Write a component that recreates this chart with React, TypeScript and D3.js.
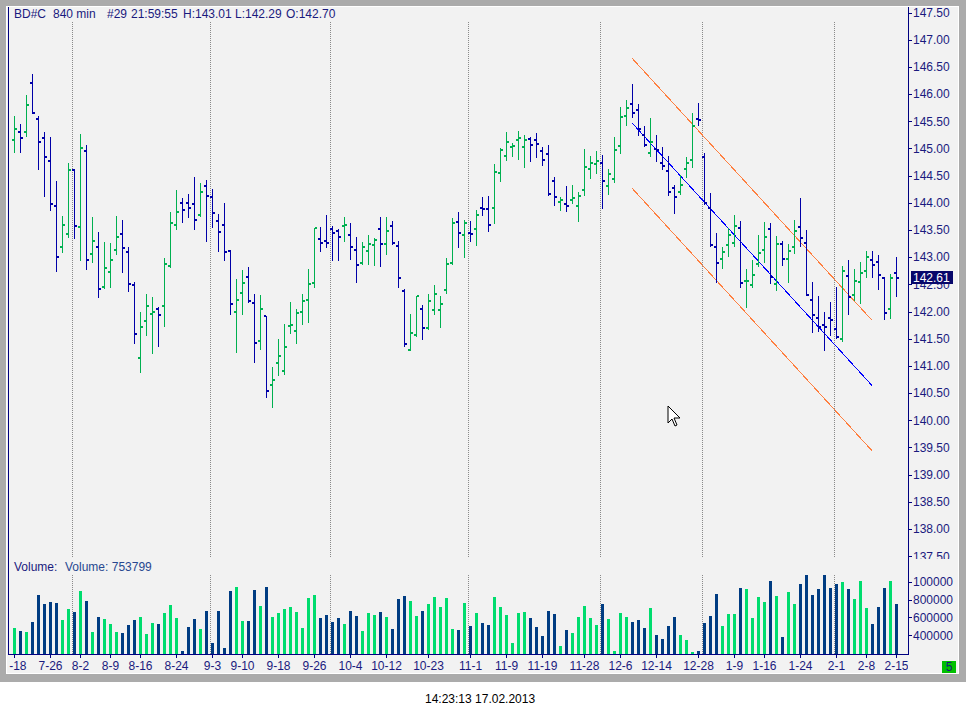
import React from 'react';
import * as d3 from 'd3';

const opens = [145.15,145.31,145.30,146.20,145.55,145.20,144.76,143.95,143.18,143.42,
144.60,143.55,144.95,143.05,143.18,142.45,142.72,143.13,143.42,143.09,
142.48,141.14,141.82,141.95,142.04,142.11,142.83,143.60,143.99,143.99,
143.97,143.77,144.30,144.10,143.66,143.60,143.11,141.99,142.34,142.63,
142.15,141.45,141.91,140.64,141.05,140.90,141.73,141.64,142.00,142.22,
142.52,143.33,143.29,143.51,143.48,143.57,143.40,143.14,142.89,143.11,
143.22,143.51,143.24,143.57,143.20,142.37,141.30,141.56,142.04,141.69,
142.02,142.02,142.39,142.89,143.64,143.40,143.44,143.51,143.90,143.88,
143.90,144.54,144.87,145.02,145.15,145.02,145.17,145.15,144.95,144.89,
144.40,144.01,143.97,144.06,143.95,144.23,144.63,144.71,144.73,144.30,
144.44,145.04,145.59,145.82,145.70,145.24,144.91,144.99,144.73,144.58,
144.27,144.19,144.62,144.78,145.55,144.85,143.91,143.18,142.96,143.22,
143.27,143.53,142.56,142.48,142.87,143.14,143.51,142.50,143.25,142.96,
143.18,143.55,143.27,142.21,141.88,141.75,141.88,141.67,141.49,142.65,
142.30,142.54,142.74,142.94,142.92,142.61,142.04,142.70];

const highs = [145.60,145.45,145.98,146.37,145.60,145.30,145.21,144.40,143.76,144.73,
144.62,145.27,145.06,143.74,143.46,143.28,143.26,143.76,143.68,143.19,
142.54,141.99,142.32,142.27,142.08,142.99,143.83,144.24,144.09,144.16,
144.47,144.36,144.42,144.25,143.79,144.00,143.13,142.60,142.76,142.82,
142.32,142.30,141.92,140.98,141.50,141.77,142.18,142.05,142.32,142.78,
143.54,143.56,143.78,143.57,143.52,143.74,143.63,143.37,143.28,143.41,
143.35,143.74,143.74,143.67,143.30,142.41,141.95,142.29,142.12,142.33,
142.49,142.29,142.98,143.72,143.83,143.68,143.67,143.87,144.11,144.13,
144.71,145.01,145.30,145.10,145.32,145.25,145.21,145.28,145.03,145.06,
144.47,144.11,144.31,144.33,144.20,144.99,144.86,144.95,144.88,144.62,
145.21,145.76,145.89,146.19,145.81,145.42,145.56,145.24,145.03,144.86,
144.32,144.51,144.85,145.65,145.84,144.92,144.18,143.44,143.19,143.54,
143.77,143.66,142.78,142.95,143.41,143.65,143.63,143.39,143.30,143.24,
143.68,144.09,143.50,142.54,142.29,141.99,142.18,142.45,142.84,142.95,
142.78,142.92,143.11,143.11,143.04,142.63,142.69,143.01];

const lows = [144.94,144.94,145.23,145.65,144.63,144.13,143.87,142.75,143.10,143.38,
143.35,142.94,142.79,142.92,142.27,142.43,142.46,143.05,142.72,142.38,
141.43,140.88,141.56,141.24,141.37,141.74,142.82,143.52,143.65,143.73,
143.51,143.75,143.29,143.56,143.12,142.94,141.96,141.26,141.96,142.17,
141.08,141.32,140.43,140.25,140.84,140.86,141.61,141.43,141.78,141.80,
142.46,143.12,143.19,142.95,142.94,143.29,142.97,142.55,142.88,142.87,
142.86,142.83,143.05,143.24,142.46,141.37,141.29,141.55,141.50,141.67,
141.96,141.72,142.35,142.87,143.19,143.01,143.30,143.23,143.78,143.49,
143.62,144.41,144.78,144.87,144.81,144.66,144.76,144.85,144.70,144.15,
143.96,143.87,143.85,143.99,143.67,144.15,144.46,144.55,143.91,144.17,
144.39,144.92,145.44,145.57,145.25,145.04,144.87,144.76,144.63,144.14,
143.82,144.17,144.47,144.65,145.43,143.98,143.21,142.54,142.81,143.03,
143.20,142.45,142.08,142.46,142.84,142.92,142.53,142.40,142.86,142.55,
143.08,143.20,142.30,141.63,141.64,141.30,141.56,141.52,141.46,141.95,
142.22,142.16,142.63,142.63,142.42,141.86,141.89,142.29];

const closes = [145.35,145.20,145.79,145.66,145.11,144.84,143.97,143.00,143.60,144.60,
143.57,145.00,142.94,143.29,142.41,142.81,142.94,143.38,143.16,142.50,
141.58,141.71,142.10,141.99,141.93,142.87,143.62,143.84,143.86,143.90,
143.68,144.19,144.12,143.82,143.46,143.09,142.13,142.22,142.52,142.19,
141.42,142.04,140.53,140.75,141.18,141.34,141.76,141.97,142.19,142.50,
143.53,143.27,143.27,143.44,143.37,143.60,143.18,142.85,143.18,143.25,
143.31,143.24,143.49,143.27,142.61,141.40,141.60,142.28,141.69,142.19,
142.32,142.13,142.87,143.62,143.44,143.62,143.43,143.77,143.88,143.60,
144.56,144.98,145.11,145.04,145.20,145.15,145.06,145.08,144.78,144.17,
144.10,144.05,143.95,144.08,144.12,144.65,144.73,144.76,144.40,144.53,
144.98,145.57,145.74,145.66,145.35,145.06,145.11,144.98,144.67,144.19,
144.10,144.32,144.73,145.42,145.53,144.00,143.22,142.89,143.09,143.40,
143.57,142.53,142.57,142.67,143.08,143.38,142.63,143.25,142.96,143.11,
143.49,143.35,142.31,141.93,141.71,141.71,141.84,141.54,142.75,142.26,
142.56,142.70,143.00,142.85,142.67,141.97,142.61,142.61];

const volumes = [485000,452000,441000,552000,854000,753000,772000,765000,575000,698000,
664000,899000,787000,441000,608000,586000,530000,441000,430000,519000,
575000,608000,418000,541000,530000,653000,742000,597000,228000,497000,
586000,474000,675000,318000,675000,262000,899000,943000,564000,564000,
910000,731000,943000,608000,653000,698000,720000,664000,485000,821000,
854000,597000,631000,552000,597000,530000,675000,619000,452000,653000,
631000,664000,608000,474000,809000,843000,787000,619000,675000,754000,
832000,720000,821000,474000,463000,765000,508000,653000,541000,515000,
832000,720000,627000,318000,653000,664000,597000,497000,396000,672000,
642000,284000,459000,430000,605000,727000,597000,519000,754000,586000,
228000,653000,608000,552000,575000,485000,705000,407000,362000,504000,
605000,407000,351000,213000,228000,541000,619000,865000,508000,642000,
642000,932000,917000,597000,832000,776000,1010000,843000,385000,884000,
754000,977000,1074000,854000,917000,1074000,932000,977000,996000,917000,
809000,1007000,709000,530000,720000,932000,1007000,753799];

const xTickBars = [0,6,11,16,21,27,33,38,44,50,56,62,69,76,82,88,95,101,107,114,120,125,131,137,142,147];
const xTickLabels = ["7-18","7-26","8-2","8-9","8-16","8-24","9-3","9-10","9-18","9-26","10-4","10-12","10-23","11-1","11-9","11-19","11-28","12-6","12-14","12-28","1-9","1-16","1-24","2-1","2-8","2-15"];
const monthStartBars = [10,33,53,76,98,115,137];

const priceTicks = [147.5,147,146.5,146,145.5,145,144.5,144,143.5,143,142.5,142,141.5,141,140.5,140,139.5,139,138.5,138,137.5];
const volTicks = [1000000,800000,600000,400000];
const volTickLabels = ["100000","800000","600000","400000"];

// regression channel: [startBar, startPrice, endBar, endPrice]
const channelUpper = [103, 146.66, 143, 141.84];
const channelMid = [103, 145.47, 143, 140.64];
const channelLower = [103, 144.27, 143, 139.44];

const FONT = '"Liberation Sans", Arial, sans-serif';
const NAVY = '#1a1a7e';
const P_GREEN = '#00b050';
const P_BLUE = '#0000a8';
const V_GREEN = '#00dc6e';
const V_BLUE = '#003c82';
const AXIS = '#000080';

export default function App() {
  const x = d3.scaleLinear().domain([0, 147]).range([14, 896]);
  const yP = d3.scaleLinear().domain([147, 142]).range([39.7, 311.55]);
  const yV = d3.scaleLinear().domain([191100, 1073800]).range([654, 575]);
  const fmt = d3.format('.2f');
  const lastClose = closes[closes.length - 1];
  const lastY = yP(lastClose);
  const chan = (c: number[], color: string) => (
    <line x1={x(c[0])} y1={yP(c[1])} x2={x(c[2])} y2={yP(c[3])} stroke={color} strokeWidth={1} />
  );

  return (
    <svg width={966} height={716} style={{ position: 'absolute', left: 0, top: 0, background: '#fff' }}
      shapeRendering="crispEdges" fontFamily={FONT}>
      <defs>
        <clipPath id="priceLbl"><rect x={909} y={7} width={49} height={552} /></clipPath>
        <clipPath id="xLbl"><rect x={9} y={655} width={899} height={18} /></clipPath>
      </defs>
      <rect x={0} y={0} width={966} height={716} fill="#ffffff" />
      <rect x={0} y={0} width={966} height={682} fill="#ababab" />
      <rect x={6} y={6} width={953} height={668} fill="#ffffff" />
      <rect x={7} y={7} width={951} height={666} fill="#f2f2f2" />

      {/* month separators */}
      {monthStartBars.map(b => (
        <g key={'sep' + b}>
          <line x1={x(b) - 1.5} x2={x(b) - 1.5} y1={22} y2={558} stroke="#8a8a8a" strokeDasharray="1,1" />
          <line x1={x(b) - 1.5} x2={x(b) - 1.5} y1={575} y2={654} stroke="#8a8a8a" strokeDasharray="1,1" />
        </g>
      ))}

      {/* channel */}
      {chan(channelUpper, '#ff7f3f')}
      {chan(channelLower, '#ff7f3f')}
      {chan(channelMid, '#0000ff')}

      {/* price bars */}
      {opens.map((o, i) => {
        const cx = Math.round(x(i));
        const col = closes[i] > o ? P_GREEN : P_BLUE;
        const yh = Math.round(yP(highs[i]));
        const yl = Math.round(yP(lows[i]));
        const yo = Math.round(yP(o));
        const yc = Math.round(yP(closes[i]));
        return (
          <g key={'b' + i} fill={col}>
            <rect x={cx} y={yh} width={1} height={yl - yh + 1} />
            <rect x={cx - 2} y={yo - 1} width={2} height={2} />
            <rect x={cx + 1} y={yc - 1} width={2} height={2} />
          </g>
        );
      })}

      {/* volume bars */}
      {volumes.map((v, i) => {
        const cx = Math.round(x(i));
        const yt = Math.round(yV(v));
        const col = closes[i] > opens[i] ? V_GREEN : V_BLUE;
        return <rect key={'v' + i} x={cx - 1} y={yt} width={3} height={654 - yt} fill={col} />;
      })}

      {/* axes lines */}
      <rect x={8} y={7} width={1} height={648} fill={AXIS} />
      <rect x={908} y={7} width={1} height={648} fill={AXIS} />
      <rect x={8} y={654} width={901} height={1} fill={AXIS} />

      {/* price axis */}
      <g clipPath="url(#priceLbl)">
        {priceTicks.map(p => (
          <g key={'pt' + p}>
            <line x1={909} x2={912} y1={Math.round(yP(p)) + 0.5} y2={Math.round(yP(p)) + 0.5} stroke={AXIS} />
            <text x={913} y={yP(p) + 4.3} fontSize={12} fill={NAVY}>{fmt(p)}</text>
          </g>
        ))}
      </g>
      <rect x={911} y={Math.round(lastY - 7)} width={42} height={13} fill="#07076b" />
      <text x={913} y={lastY + 4} fontSize={12} fill="#ffffff">{fmt(lastClose)}</text>

      {/* volume axis */}
      {volTicks.map((v, k) => (
        <g key={'vt' + v}>
          <line x1={909} x2={912} y1={Math.round(yV(v)) + 0.5} y2={Math.round(yV(v)) + 0.5} stroke={AXIS} />
          <text x={913} y={yV(v) + 4.3} fontSize={12} fill={NAVY}>{volTickLabels[k]}</text>
        </g>
      ))}

      {/* x axis */}
      {xTickBars.map(b => (
        <line key={'xt' + b} x1={Math.round(x(b)) + 0.5} x2={Math.round(x(b)) + 0.5} y1={655} y2={658} stroke={AXIS} />
      ))}
      <g clipPath="url(#xLbl)">
        {xTickBars.map((b, k) => (
          <text key={'xl' + b} x={Math.round(x(b)) + 0.5} y={670} fontSize={12} fill={NAVY} textAnchor="middle">{xTickLabels[k]}</text>
        ))}
      </g>

      {/* titles */}
      <g fontSize={12} fill={NAVY}>
        <text x={14} y={18}>BD#C</text>
        <text x={53} y={18}>840 min</text>
        <text x={107} y={18}>#29</text>
        <text x={131} y={18}>21:59:55</text>
        <text x={183} y={18}>H:143.01</text>
        <text x={235} y={18}>L:142.29</text>
        <text x={286} y={18}>O:142.70</text>
      </g>
      <text x={14} y={571} fontSize={12} fill={NAVY}>Volume:</text>
      <text x={65} y={571} fontSize={12} fill="#284890">Volume: {volumes[volumes.length - 1]}</text>

      {/* status box */}
      <rect x={942} y={661} width={14} height={12} fill="#00c000" />
      <text x={949} y={671} fontSize={12} fill={NAVY} textAnchor="middle">5</text>

      {/* mouse cursor */}
      <path d="M668,406 l0,17 l4,-4 l3,7 l2,-1 l-3,-7 l6,0 z" fill="#ffffff" stroke="#000000" strokeWidth={1} shapeRendering="auto" />

      <text x={425} y={703} fontSize={12} fill="#000000">14:23:13 17.02.2013</text>
    </svg>
  );
}
